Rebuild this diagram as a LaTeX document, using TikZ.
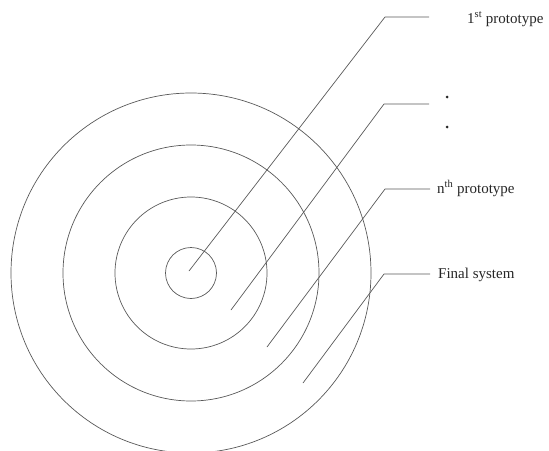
\documentclass[tikz,border=0pt]{standalone}
\usepackage{fontspec}
\setmainfont{Liberation Serif}
\begin{document}
\begin{tikzpicture}[x=1pt,y=-1pt,
  ring/.style={draw=black!65,line width=0.7pt},
  leader/.style={draw=black!65,line width=0.7pt},
  lbl/.style={anchor=base west,inner sep=0pt,font=\fontsize{15}{18}\selectfont,text=black!85},
  dotmark/.style={fill=black!85,circle,inner sep=0pt,minimum size=3pt}]
\useasboundingbox (0,0) rectangle (549,450);
\coordinate (c) at (191,273);
\draw[ring] (c) circle[radius=25.5];
\draw[ring] (c) circle[radius=76];
\draw[ring] (c) circle[radius=128];
\draw[ring] (c) circle[radius=180];
% labels
\node[lbl] (l1) at (467,23) {1\textsuperscript{st} prototype};
\node[dotmark] (d1) at (447,97) {};
\node[dotmark] (d2) at (447,127) {};
\node[lbl] (l3) at (437,193) {n\textsuperscript{th} prototype};
\node[lbl] (l4) at (438,278) {Final system};
% leader points
\coordinate (s1) at (189,271);
\coordinate (k1) at (385,17);
\coordinate (e1) at (429,17);
\coordinate (s2) at (231,310);
\coordinate (k2) at (384,104);
\coordinate (e2) at (429,104);
\coordinate (s3) at (267,347);
\coordinate (k3) at (385,189);
\coordinate (e3) at (430,189);
\coordinate (s4) at (303,383);
\coordinate (k4) at (384,274);
\coordinate (e4) at (430,274);
\draw[leader] (s1) -- (k1) -- (e1);
\draw[leader] (s2) -- (k2) -- (e2);
\draw[leader] (s3) -- (k3) -- (e3);
\draw[leader] (s4) -- (k4) -- (e4);
\end{tikzpicture}
\end{document}
